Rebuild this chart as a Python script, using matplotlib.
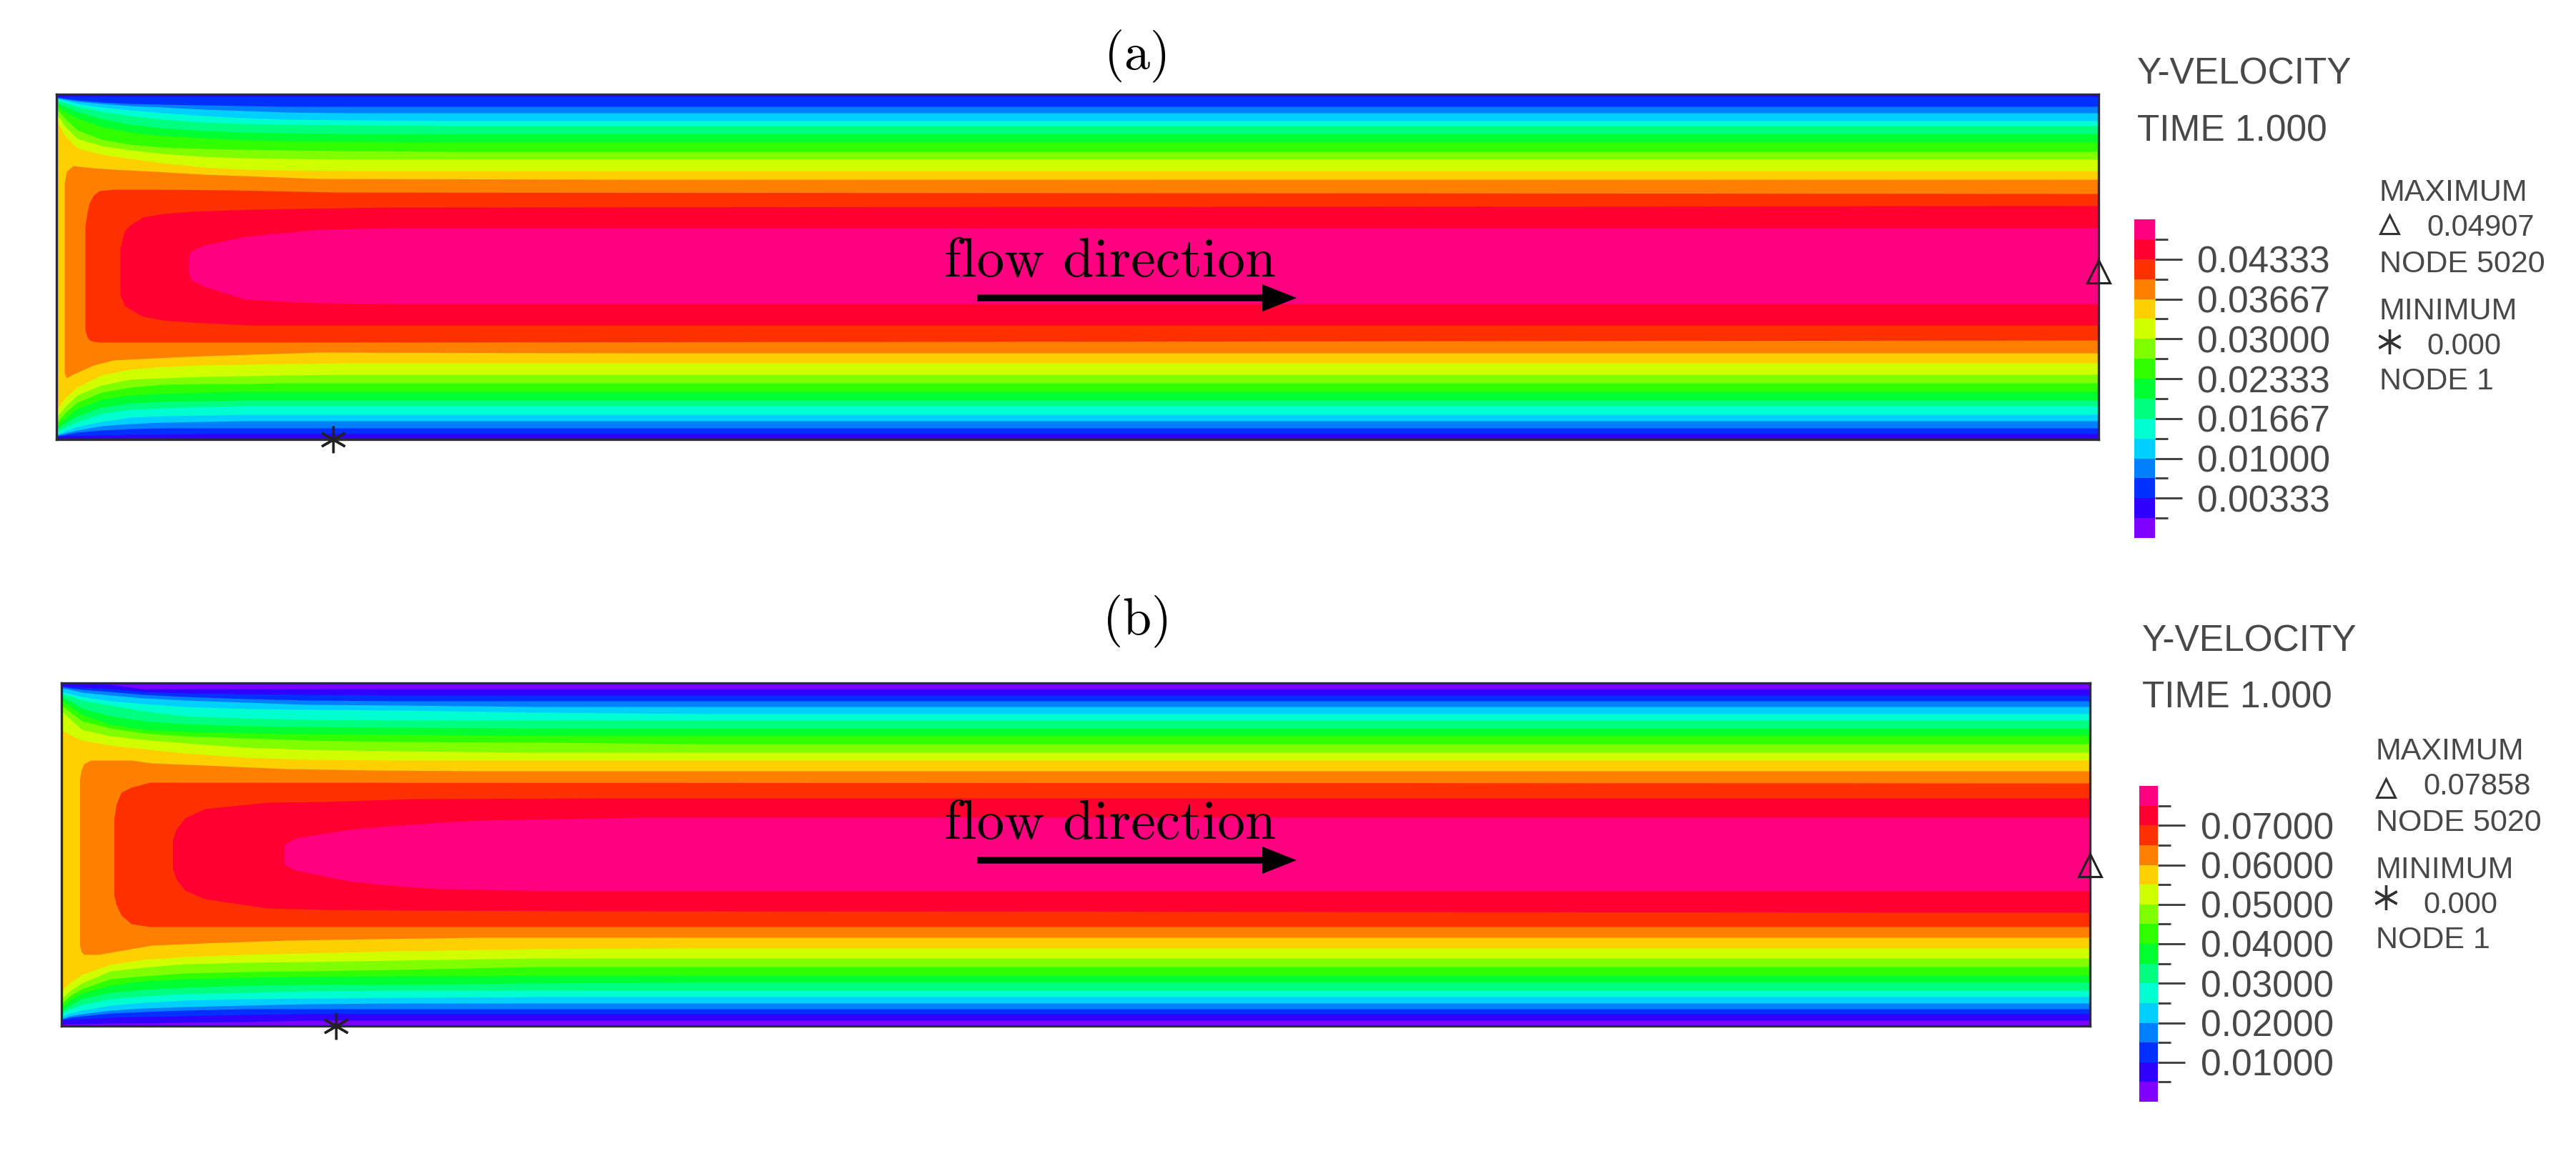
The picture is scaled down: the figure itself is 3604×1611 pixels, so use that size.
import numpy as np
import matplotlib
matplotlib.use("Agg")
import matplotlib.pyplot as plt

W, H = 3605, 1611

# bands of the solver's legend, lowest velocity first
band_colors = ["#8000ff", "#3000ff", "#0030ff", "#0080ff", "#00d0ff", "#00ffd0",
               "#00ff80", "#00ff30", "#30ff00", "#80ff00", "#d0ff00", "#ffd000",
               "#ff8000", "#ff3000", "#ff0030", "#ff0080"]

# contour lines: x along the channel, y from the top wall
# panel (a), channel size
a_length, a_height = 2857, 483
a_step = 0.00333
a_wall_x = [0, 12, 29, 63, 103, 149, 207, 264, 321, 408, 551, 800, 2857]
# levels 1..10, they touch the inlet wall
a_wall_top = [
    [3, 3, 3, 3, 3, 3, 3, 3, 3, 3, 3, 3, 3],
    [4, 6, 8, 11, 13, 14, 15, 16, 17, 17, 17, 17, 17],
    [5, 7, 10, 13, 16, 18, 21, 23, 25, 26, 26, 26, 26],
    [6, 9, 13, 18, 22, 26, 30, 33, 35, 36, 37, 37, 37],
    [8, 12, 17, 24, 30, 35, 39, 41, 42, 43, 44, 44, 44],
    [11, 17, 24, 34, 42, 47, 51, 53, 54, 55, 55, 55, 55],
    [15, 24, 33, 45, 53, 58, 61, 64, 65, 66, 67, 67, 67],
    [20, 34, 50, 63, 70, 74, 76, 77, 78, 79, 80, 80, 80],
    [27, 45, 62, 72, 78, 83, 87, 89, 90, 91, 91, 91, 91],
    [36, 58, 75, 84, 90, 96, 102, 105, 106, 107, 107, 107, 107],
]
a_wall_bottom = [
    [479, 478, 478, 477, 476, 476, 475, 475, 475, 475, 475, 475, 475],
    [478, 476, 473, 470, 468, 467, 467, 467, 467, 467, 467, 467, 467],
    [477, 474, 470, 464, 461, 459, 458, 457, 457, 457, 457, 457, 457],
    [476, 471, 465, 458, 452, 450, 449, 448, 448, 448, 448, 448, 448],
    [472, 466, 458, 447, 441, 439, 437, 436, 436, 436, 436, 436, 436],
    [469, 460, 450, 438, 432, 430, 429, 428, 428, 428, 428, 428, 428],
    [465, 454, 440, 427, 421, 419, 417, 416, 416, 416, 416, 416, 416],
    [460, 446, 431, 417, 410, 406, 405, 405, 404, 404, 404, 404, 404],
    [452, 437, 421, 407, 399, 397, 395, 394, 393, 392, 392, 392, 392],
    [442, 425, 410, 393, 385, 381, 379, 378, 377, 376, 376, 376, 376],
]
# levels 11..14, closed noses inside the channel
a_l11_x = [11, 14, 23, 52, 80, 138, 207, 367, 800, 2857]
a_l11_top = [125, 108, 100, 103, 105, 108, 112, 118, 119, 119]
a_l11_bottom = [390, 397, 392, 379, 372, 369, 366, 361, 362, 362]
a_l12_x = [40, 43, 46, 52, 60, 80, 138, 247, 390, 2857]
a_l12_top = [185, 165, 152, 141, 135, 133, 133, 134, 137, 139]
a_l12_bottom = [330, 340, 344, 346, 347, 347, 347, 347, 347, 344]
a_l13_x = [89, 95, 103, 121, 149, 189, 270, 470, 2857]
a_l13_top = [215, 192, 183, 172, 167, 164, 161, 158, 156]
a_l13_bottom = [280, 295, 301, 311, 316, 319, 323, 323, 323]
a_l14_x = [185, 189, 207, 264, 367, 476, 2857]
a_l14_top = [225, 219, 211, 199, 189, 187, 187]
a_l14_bottom = [250, 260, 269, 287, 292, 293, 293]

# panel (b)
b_length, b_height = 2838, 480
b_step = 0.005
b_wall_x = [0, 12, 29, 69, 115, 173, 259, 345, 472, 664, 900, 2838]
# levels 1..11 (0.005 .. 0.055)
b_wall_top = [
    [1, 1, 1, 2, 8, 8, 8, 8, 8, 8, 8, 8],
    [4, 5, 6, 8, 12, 14, 15, 16, 17, 17, 17, 17],
    [5, 7, 9, 12, 16, 19, 22, 24, 25, 25, 25, 25],
    [7, 9, 13, 17, 21, 24, 27, 30, 31, 33, 33, 33],
    [12, 15, 19, 25, 29, 33, 36, 37, 38, 41, 43, 43],
    [15, 18, 24, 31, 39, 46, 49, 51, 52, 52, 52, 52],
    [19, 25, 35, 46, 53, 57, 60, 61, 62, 63, 63, 63],
    [24, 32, 44, 58, 65, 68, 70, 71, 72, 73, 73, 73],
    [31, 40, 53, 63, 70, 74, 77, 80, 82, 83, 85, 85],
    [39, 50, 65, 74, 79, 84, 90, 93, 95, 97, 97, 97],
    [65, 72, 80, 87, 92, 98, 104, 107, 108, 108, 108, 108],
]
b_wall_bottom = [
    [478, 477, 477, 476, 476, 475, 474, 472, 472, 472, 472, 472],
    [472, 471, 470, 468, 467, 466, 464, 463, 463, 463, 463, 463],
    [471, 468, 466, 462, 460, 458, 456, 456, 456, 456, 456, 456],
    [470, 466, 463, 458, 455, 453, 451, 449, 448, 448, 448, 448],
    [467, 462, 458, 451, 447, 444, 442, 441, 440, 439, 439, 439],
    [463, 456, 450, 442, 438, 435, 433, 431, 430, 430, 430, 430],
    [460, 451, 442, 433, 429, 426, 423, 422, 422, 420, 419, 419],
    [455, 444, 434, 423, 417, 414, 412, 411, 410, 409, 409, 409],
    [449, 438, 428, 414, 410, 406, 404, 403, 401, 397, 397, 397],
    [442, 431, 420, 403, 398, 393, 391, 390, 388, 385, 385, 385],
    [431, 420, 408, 394, 387, 383, 380, 378, 375, 372, 371, 371],
]
# levels 12..15
b_l12_x = [26, 28, 32, 41, 52, 98, 127, 201, 316, 443, 586, 2838]
b_l12_top = [135, 122, 113, 108, 108, 108, 112, 115, 120, 122, 123, 123]
b_l12_bottom = [367, 376, 380, 380, 380, 372, 367, 364, 360, 358, 356, 356]
b_l13_x = [74, 77, 84, 98, 124, 2838]
b_l13_top = [190, 170, 153, 146, 139, 140]
b_l13_bottom = [297, 310, 325, 337, 341, 341]
b_l14_x = [156, 161, 173, 201, 288, 368, 494, 752, 2838]
b_l14_top = [219, 205, 189, 176, 167, 166, 162, 161, 161]
b_l14_bottom = [260, 274, 290, 302, 315, 317, 318, 319, 321]
b_l15_x = [312, 328, 402, 458, 532, 586, 692, 815, 2838]
b_l15_top = [226, 217, 205, 200, 195, 192, 190, 188, 188]
b_l15_bottom = [254, 262, 277, 283, 288, 289, 291, 291, 291]

# tick labels of the two legends
a_tick_labels = ["0.00333", "0.01000", "0.01667", "0.02333", "0.03000", "0.03667", "0.04333"]
b_tick_labels = ["0.01000", "0.02000", "0.03000", "0.04000", "0.05000", "0.06000", "0.07000"]

# nodes where the maximum and minimum sit: (x, y)
a_max_node = (2857, 248)
a_min_node = (387, 483)
b_max_node = (2838, 255)
b_min_node = (384, 480)

plt.rcParams["font.family"] = ["Liberation Sans", "DejaVu Sans"]
fig = plt.figure(figsize=(W / 100, H / 100), dpi=100)
TEXT_COLOR = "#484848"


def px_axes(left, top, right, bottom):
    return fig.add_axes([left / W, 1 - bottom / H, (right - left) / W, (bottom - top) / H])


def put(x, y, s, size=37, **kw):
    kw.setdefault("color", TEXT_COLOR)
    fig.text(x / W, 1 - y / H, s, fontsize=size, va="baseline", **kw)


def draw_channel(ax, length, height, wall_x, wall_top, wall_bottom, core, first_band, max_node, min_node):
    ax.fill_between([0, length], height, 0, color=band_colors[first_band], lw=0)
    band = first_band + 1
    for top, bottom in zip(wall_top, wall_bottom):
        ax.fill_between(wall_x, bottom, top, color=band_colors[band], lw=0)
        band += 1
    for x, top, bottom in core:
        ax.fill_between(x, bottom, top, color=band_colors[band], lw=0)
        band += 1
    ax.set_xlim(0, length)
    ax.set_ylim(height, 0)
    ax.set_xticks([])
    ax.set_yticks([])
    for s in ax.spines.values():
        s.set_linewidth(2.4)
        s.set_color("#2a2a38")
    ax.plot(*max_node, marker="^", ms=23, mfc="none", mec="#222222", mew=2.2, clip_on=False, zorder=5)
    ax.plot(*min_node, marker=(6, 2, 0), ms=27, mec="#222222", mew=2.4, clip_on=False, zorder=5)


def draw_legend(ax, first_edge, step, labels, first_label):
    edges = first_edge + step * np.arange(17)
    ax.barh(edges[:-1], 1, height=step, align="edge", color=band_colors, lw=0)
    ax.set_xlim(0, 1)
    ax.set_ylim(edges[0], edges[-1])
    ax.set_xticks([])
    for s in ax.spines.values():
        s.set_visible(False)
    ax.yaxis.tick_right()
    major = first_label + 2 * step * np.arange(len(labels))
    minor = first_label - step + 2 * step * np.arange(len(labels) + 1)
    ax.set_yticks(major, labels)
    ax.set_yticks(minor, minor=True)
    ax.tick_params(axis="y", which="major", length=27.5, width=2.1, pad=15, labelsize=37,
                   color="#404040", labelcolor=TEXT_COLOR)
    ax.tick_params(axis="y", which="minor", length=13, width=2.1, color="#404040")


def draw_side(tx, ty, mx, my, max_text):
    put(tx, ty, "Y-VELOCITY")
    put(tx, ty + 80, "TIME 1.000")
    put(mx, my, "MAXIMUM", size=31)
    put(mx + 66, my + 49, max_text, size=30)
    put(mx, my + 100, "NODE 5020", size=31)
    put(mx, my + 166, "MINIMUM", size=31)
    put(mx + 66, my + 215, "0.000", size=30)
    put(mx, my + 264, "NODE 1", size=31)


ax_a = px_axes(79, 132, 2936, 615)
draw_channel(ax_a, a_length, a_height, a_wall_x, a_wall_top, a_wall_bottom,
             [(a_l11_x, a_l11_top, a_l11_bottom), (a_l12_x, a_l12_top, a_l12_bottom),
              (a_l13_x, a_l13_top, a_l13_bottom), (a_l14_x, a_l14_top, a_l14_bottom)],
             1, a_max_node, a_min_node)
ax_b = px_axes(85.5, 956, 2924, 1436)
draw_channel(ax_b, b_length, b_height, b_wall_x, b_wall_top, b_wall_bottom,
             [(b_l12_x, b_l12_top, b_l12_bottom), (b_l13_x, b_l13_top, b_l13_bottom),
              (b_l14_x, b_l14_top, b_l14_bottom), (b_l15_x, b_l15_top, b_l15_bottom)],
             0, b_max_node, b_min_node)

draw_legend(px_axes(2986, 307, 3015, 753), -a_step, a_step, a_tick_labels, a_step)
draw_legend(px_axes(2993, 1100, 3019.5, 1542), 0.0, b_step, b_tick_labels, 2 * b_step)

draw_side(2990, 117, 3329, 281, "0.04907")
draw_side(2997, 911, 3324, 1063, "0.07858")

# small symbols in the side text
overlay = fig.add_axes([0, 0, 1, 1])
overlay.set_xlim(0, W)
overlay.set_ylim(H, 0)
overlay.axis("off")
overlay.patch.set_alpha(0)
for x, y in [(3343, 314), (3338, 1103)]:
    overlay.plot(x, y, marker="^", ms=19, mfc="none", mec="#333333", mew=2.2)
for x, y in [(3343, 478), (3338, 1256)]:
    overlay.plot(x, y, marker=(6, 2, 0), ms=25, mec="#333333", mew=2.4)

# LaTeX-looking labels on top
for y_text, y_arrow in [(387, 417), (1174, 1204)]:
    put(1321, y_text, "flow direction", size=56, family="cmr10", color="black")
    overlay.annotate("", xy=(1814, y_arrow), xytext=(1367, y_arrow),
                     arrowprops=dict(arrowstyle="simple,head_length=34.5,head_width=27.4,tail_width=6.7",
                                     mutation_scale=1, lw=0, color="black", shrinkA=0, shrinkB=0))
put(1591, 97, "(a)", size=52, family="cmr10", color="black", ha="center")
put(1591, 888, "(b)", size=52, family="cmr10", color="black", ha="center")

fig.savefig("out.png", dpi=100)
